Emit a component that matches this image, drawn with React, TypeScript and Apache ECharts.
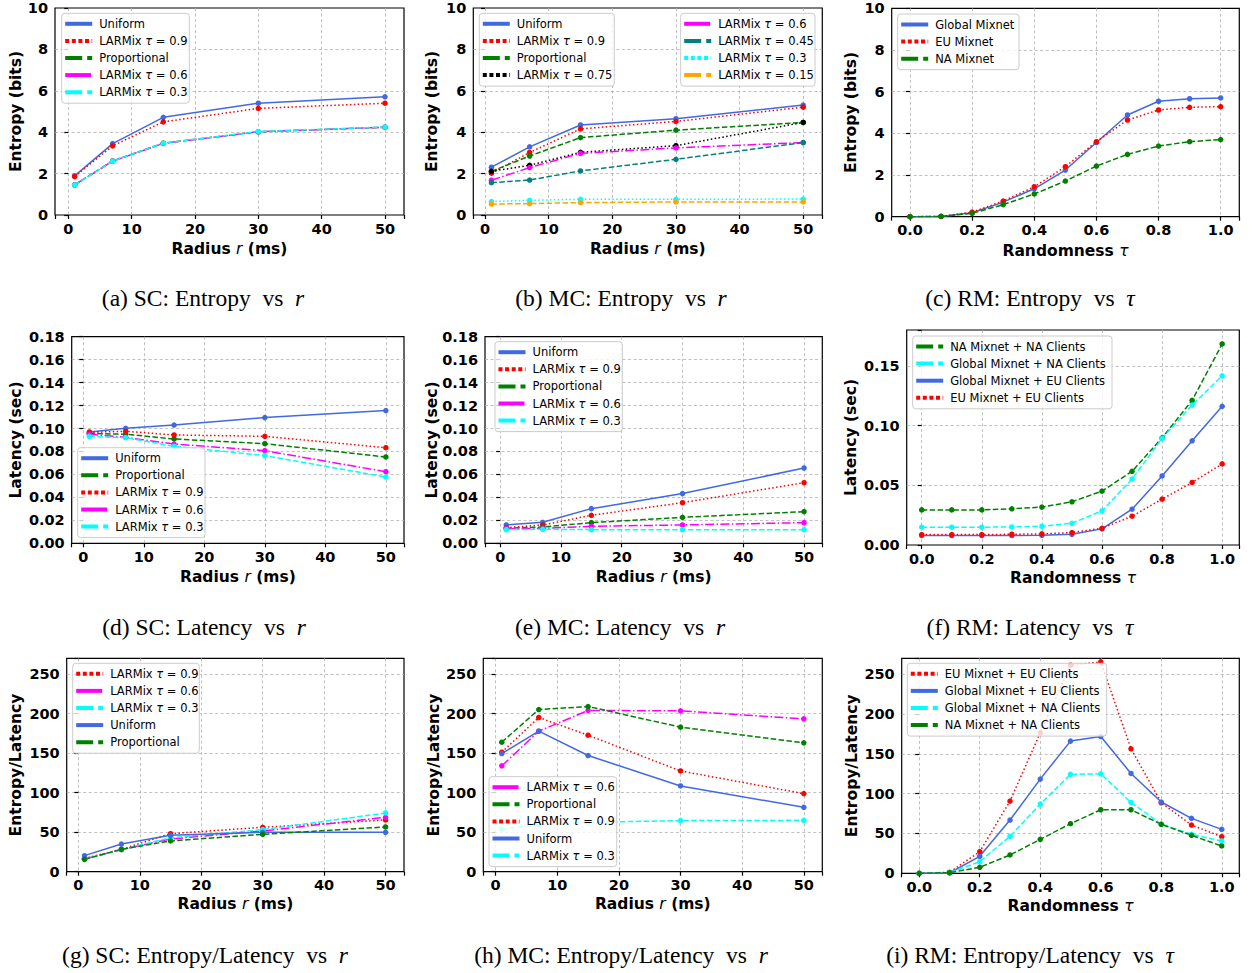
import React, { useEffect, useRef } from 'react';
import * as echarts from 'echarts';

// ---------------- data ----------------
const RADIUS = [1, 7, 15, 30, 50];
const TAU = [0, 0.1, 0.2, 0.3, 0.4, 0.5, 0.6, 0.7, 0.8, 0.9, 1.0];

// (a) SC: Entropy vs r
const scEntUniform = [1.89, 3.45, 4.72, 5.40, 5.71];
const scEntLar09 = [1.86, 3.34, 4.50, 5.15, 5.40];
const scEntProp = [1.46, 2.61, 3.47, 4.02, 4.24];
const scEntLar06 = [1.45, 2.60, 3.46, 4.02, 4.24];
const scEntLar03 = [1.45, 2.60, 3.47, 4.03, 4.25];

// (b) MC: Entropy vs r
const mcEntUniform = [2.31, 3.29, 4.35, 4.65, 5.31];
const mcEntLar09 = [2.02, 3.02, 4.16, 4.52, 5.21];
const mcEntProp = [2.11, 2.85, 3.74, 4.10, 4.47];
const mcEntLar075 = [2.11, 2.40, 3.03, 3.35, 4.47];
const mcEntLar06 = [1.68, 2.29, 2.98, 3.24, 3.50];
const mcEntLar045 = [1.56, 1.69, 2.13, 2.69, 3.50];
const mcEntLar03 = [0.65, 0.71, 0.76, 0.76, 0.77];
const mcEntLar015 = [0.53, 0.55, 0.60, 0.63, 0.63];

// (c) RM: Entropy vs tau
const rmEntGlobal = [0, 0.01, 0.19, 0.70, 1.34, 2.24, 3.56, 4.88, 5.54, 5.66, 5.70];
const rmEntEU = [0, 0.02, 0.22, 0.75, 1.44, 2.40, 3.60, 4.64, 5.12, 5.25, 5.28];
const rmEntNA = [0, 0.01, 0.16, 0.58, 1.09, 1.71, 2.43, 2.99, 3.39, 3.60, 3.70];

// (d) SC: Latency vs r
const scLatUniform = [0.0970, 0.1002, 0.1030, 0.1095, 0.1156];
const scLatProp = [0.0958, 0.0950, 0.0909, 0.0868, 0.0752];
const scLatLar09 = [0.0967, 0.0976, 0.0944, 0.0932, 0.0833];
const scLatLar06 = [0.0950, 0.0923, 0.0865, 0.0807, 0.0624];
const scLatLar03 = [0.0932, 0.0920, 0.0845, 0.0764, 0.0578];

// (e) MC: Latency vs r
const mcLatUniform = [0.0160, 0.0183, 0.0302, 0.0433, 0.0656];
const mcLatLar09 = [0.0136, 0.0160, 0.0244, 0.0354, 0.0528];
const mcLatProp = [0.0130, 0.0142, 0.0180, 0.0226, 0.0276];
const mcLatLar06 = [0.0130, 0.0130, 0.0148, 0.0160, 0.0180];
const mcLatLar03 = [0.0119, 0.0122, 0.0119, 0.0119, 0.0119];

// (f) RM: Latency vs tau
const rmLatNANA = [0.0294, 0.0294, 0.0294, 0.0303, 0.0317, 0.0362, 0.0451, 0.0617, 0.0897, 0.1211, 0.1683];
const rmLatGlobalNA = [0.0149, 0.0149, 0.0149, 0.0151, 0.0157, 0.0182, 0.0286, 0.0552, 0.0892, 0.1172, 0.1416];
const rmLatGlobalEU = [0.0079, 0.0079, 0.0079, 0.0079, 0.0081, 0.0090, 0.0135, 0.0300, 0.0578, 0.0872, 0.1161];
const rmLatEUEU = [0.0087, 0.0087, 0.0087, 0.0090, 0.0093, 0.0104, 0.0140, 0.0241, 0.0384, 0.0524, 0.0679];

// (g) SC: Entropy/Latency vs r
const scRatioLar09 = [16.9, 28.3, 48.1, 56.2, 65.5];
const scRatioLar06 = [16.0, 27.9, 41.4, 51.5, 68.8];
const scRatioLar03 = [16.0, 27.9, 43.0, 53.2, 74.3];
const scRatioUniform = [20.3, 35.0, 46.0, 49.8, 49.8];
const scRatioProp = [15.6, 28.3, 38.9, 47.3, 56.6];

// (h) MC: Entropy/Latency vs r
const mcRatioLar06 = [133.9, 177.8, 204.0, 203.5, 193.4];
const mcRatioProp = [163.9, 205.2, 209.0, 182.9, 163.0];
const mcRatioLar09 = [151.2, 195.1, 172.7, 127.5, 98.8];
const mcRatioUniform = [149.5, 177.8, 147.0, 108.5, 81.5];
const mcRatioLar03 = [54.0, 59.5, 62.5, 64.6, 65.0];

// (i) RM: Entropy/Latency vs tau
const rmRatioEUEU = [0, 1.3, 27.2, 90.7, 176.4, 261.3, 265.5, 156.4, 88.6, 60.6, 46.0];
const rmRatioGlobalEU = [0, 0.4, 21.3, 66.9, 118.3, 166.0, 171.8, 125.4, 89.5, 69.0, 55.2];
const rmRatioGlobalNA = [0, 0.8, 14.6, 46.4, 87.0, 124.2, 125.0, 89.0, 61.9, 48.9, 40.6];
const rmRatioNANA = [0, 0.8, 7.5, 23.0, 42.6, 62.3, 79.8, 79.8, 61.5, 47.7, 34.3];

// captions
const CAPTIONS = [
  ['(a) SC: Entropy', 'r'], ['(b) MC: Entropy', 'r'], ['(c) RM: Entropy', 'τ'],
  ['(d) SC: Latency', 'r'], ['(e) MC: Latency', 'r'], ['(f) RM: Latency', 'τ'],
  ['(g) SC: Entropy/Latency', 'r'], ['(h) MC: Entropy/Latency', 'r'], ['(i) RM: Entropy/Latency', 'τ'],
];

// ---------------- styles ----------------
const C = {
  blue: '#4169E1', red: '#FF0000', green: '#008000', magenta: '#FF00FF',
  cyan: '#00FFFF', teal: '#008080', black: '#000000', orange: '#FFA500',
};
type Dash = 'solid' | 'dashed' | 'dotted' | 'dashdot';
const DASH_PLOT: Record<Dash, any> = { solid: 'solid', dashed: [5.5, 2.4], dotted: [1.5, 2.4], dashdot: [9, 2.4, 1.5, 2.4] };
const DASH_LEG: Record<Dash, any> = { solid: null, dashed: [17, 5], dotted: [4, 2.6], dashdot: [26, 5] };
const FONT = 'DejaVu Sans';

type Spec = { name: string; y: number[]; color: string; dash: Dash };
const sp = (name: string, y: number[], color: string, dash: Dash): Spec => ({ name, y, color, dash });

const PANEL_SERIES: Spec[][] = [
  [sp('Uniform', scEntUniform, C.blue, 'solid'), sp('LARMix τ = 0.9', scEntLar09, C.red, 'dotted'),
   sp('Proportional', scEntProp, C.green, 'dashed'), sp('LARMix τ = 0.6', scEntLar06, C.magenta, 'dashdot'),
   sp('LARMix τ = 0.3', scEntLar03, C.cyan, 'dashed')],
  [sp('Uniform', mcEntUniform, C.blue, 'solid'), sp('LARMix τ = 0.9', mcEntLar09, C.red, 'dotted'),
   sp('Proportional', mcEntProp, C.green, 'dashed'), sp('LARMix τ = 0.75', mcEntLar075, C.black, 'dotted'),
   sp('LARMix τ = 0.6', mcEntLar06, C.magenta, 'dashdot'), sp('LARMix τ = 0.45', mcEntLar045, C.teal, 'dashed'),
   sp('LARMix τ = 0.3', mcEntLar03, C.cyan, 'dotted'), sp('LARMix τ = 0.15', mcEntLar015, C.orange, 'dashed')],
  [sp('Global Mixnet', rmEntGlobal, C.blue, 'solid'), sp('EU Mixnet', rmEntEU, C.red, 'dotted'),
   sp('NA Mixnet', rmEntNA, C.green, 'dashed')],
  [sp('Uniform', scLatUniform, C.blue, 'solid'), sp('Proportional', scLatProp, C.green, 'dashed'),
   sp('LARMix τ = 0.9', scLatLar09, C.red, 'dotted'), sp('LARMix τ = 0.6', scLatLar06, C.magenta, 'dashdot'),
   sp('LARMix τ = 0.3', scLatLar03, C.cyan, 'dashed')],
  [sp('Uniform', mcLatUniform, C.blue, 'solid'), sp('LARMix τ = 0.9', mcLatLar09, C.red, 'dotted'),
   sp('Proportional', mcLatProp, C.green, 'dashed'), sp('LARMix τ = 0.6', mcLatLar06, C.magenta, 'dashdot'),
   sp('LARMix τ = 0.3', mcLatLar03, C.cyan, 'dashed')],
  [sp('NA Mixnet + NA Clients', rmLatNANA, C.green, 'dashed'), sp('Global Mixnet + NA Clients', rmLatGlobalNA, C.cyan, 'dashed'),
   sp('Global Mixnet + EU Clients', rmLatGlobalEU, C.blue, 'solid'), sp('EU Mixnet + EU Clients', rmLatEUEU, C.red, 'dotted')],
  [sp('LARMix τ = 0.9', scRatioLar09, C.red, 'dotted'), sp('LARMix τ = 0.6', scRatioLar06, C.magenta, 'dashdot'),
   sp('LARMix τ = 0.3', scRatioLar03, C.cyan, 'dashed'), sp('Uniform', scRatioUniform, C.blue, 'solid'),
   sp('Proportional', scRatioProp, C.green, 'dashed')],
  [sp('LARMix τ = 0.6', mcRatioLar06, C.magenta, 'dashdot'), sp('Proportional', mcRatioProp, C.green, 'dashed'),
   sp('LARMix τ = 0.9', mcRatioLar09, C.red, 'dotted'), sp('Uniform', mcRatioUniform, C.blue, 'solid'),
   sp('LARMix τ = 0.3', mcRatioLar03, C.cyan, 'dashed')],
  [sp('EU Mixnet + EU Clients', rmRatioEUEU, C.red, 'dotted'), sp('Global Mixnet + EU Clients', rmRatioGlobalEU, C.blue, 'solid'),
   sp('Global Mixnet + NA Clients', rmRatioGlobalNA, C.cyan, 'dashed'), sp('NA Mixnet + NA Clients', rmRatioNANA, C.green, 'dashed')],
];

// ---------------- layout ----------------
type Panel = {
  box: number[]; tau: boolean; xMin: number; xMax: number;
  yMax: number; yStep: number; yDec: number; yName: string; yGap: number; xGap: number;
};
const PANELS: Panel[] = [
  { box: [55, 8, 349, 207], tau: false, xMin: -2.1, xMax: 53, yMax: 10, yStep: 2, yDec: 0, yName: 'Entropy (bits)', yGap: 31.5, xGap: 26 },
  { box: [473.3, 8, 349, 207], tau: false, xMin: -1.85, xMax: 53, yMax: 10, yStep: 2, yDec: 0, yName: 'Entropy (bits)', yGap: 33, xGap: 26 },
  { box: [891.7, 8.3, 347.6, 208.4], tau: true, xMin: -0.059, xMax: 1.06, yMax: 10, yStep: 2, yDec: 0, yName: 'Entropy (bits)', yGap: 33, xGap: 26 },
  { box: [71.7, 336.7, 332.3, 206.6], tau: false, xMin: -1.92, xMax: 53, yMax: 0.18, yStep: 0.02, yDec: 2, yName: 'Latency (sec)', yGap: 48, xGap: 26 },
  { box: [485, 336.7, 337.3, 206.6], tau: false, xMin: -2.5, xMax: 53, yMax: 0.18, yStep: 0.02, yDec: 2, yName: 'Latency (sec)', yGap: 44.7, xGap: 26 },
  { box: [906.7, 330, 332.6, 215], tau: true, xMin: -0.05, xMax: 1.057, yMax: 0.18, yStep: 0.05, yDec: 2, yName: 'Latency (sec)', yGap: 48, xGap: 24.5 },
  { box: [66.7, 658.3, 337.3, 213.4], tau: false, xMin: -1.9, xMax: 53, yMax: 270, yStep: 50, yDec: 0, yName: 'Entropy/Latency', yGap: 42.7, xGap: 24.5 },
  { box: [483.3, 658.3, 339, 213.4], tau: false, xMin: -2.0, xMax: 53, yMax: 270, yStep: 50, yDec: 0, yName: 'Entropy/Latency', yGap: 41.3, xGap: 24.5 },
  { box: [901.7, 658.3, 337.6, 215], tau: true, xMin: -0.058, xMax: 1.058, yMax: 270, yStep: 50, yDec: 0, yName: 'Entropy/Latency', yGap: 41.4, xGap: 24.5 },
];

// legend boxes: panel, series range, x, y, width
const LEGENDS = [
  { panel: 0, from: 0, to: 5, x: 61.7, y: 13.3, w: 127.6 },
  { panel: 1, from: 0, to: 4, x: 479.3, y: 13.3, w: 135 },
  { panel: 1, from: 4, to: 8, x: 680.7, y: 13.3, w: 134.3 },
  { panel: 2, from: 0, to: 3, x: 897.7, y: 14, w: 121.3 },
  { panel: 3, from: 0, to: 5, x: 77.7, y: 447.7, w: 127.3 },
  { panel: 4, from: 0, to: 5, x: 495, y: 341.7, w: 127.3 },
  { panel: 5, from: 0, to: 4, x: 912.7, y: 336, w: 199.3 },
  { panel: 6, from: 0, to: 5, x: 72.7, y: 663.3, w: 126.6 },
  { panel: 7, from: 0, to: 5, x: 489, y: 776.7, w: 127.7 },
  { panel: 8, from: 0, to: 4, x: 907.3, y: 663.3, w: 199.4 },
];
const CAPTION_POS = [
  [203, 298], [621, 298], [1030, 298],
  [204, 627], [620, 627], [1030, 627],
  [205, 955], [621, 955], [1030, 955],
];

const fmt = (step: number, dec: number) => (v: number) => {
  const k = v / step;
  return Math.abs(k - Math.round(k)) < 1e-6 ? (Math.abs(v) < 1e-12 ? 0 : v).toFixed(dec) : '';
};

const richName = (name: string) => '{n|' + name.replace('τ', '}{t|τ}{n|') + '}';

function buildOption() {
  const labelStyle = { color: '#000', fontFamily: FONT, fontWeight: 'bold', fontSize: 14.5 };
  const nameStyle = {
    color: '#000', fontFamily: FONT, fontWeight: 'bold', fontSize: 15.5,
    rich: {
      b: { color: '#000', fontFamily: FONT, fontWeight: 'bold', fontSize: 15.5 },
      i: { color: '#000', fontFamily: FONT, fontStyle: 'italic', fontWeight: 'normal', fontSize: 15.5 },
    },
  };
  const splitLine = {
    show: true, showMinLine: false, showMaxLine: false,
    lineStyle: { color: '#b0b0b0', width: 0.8, type: [3, 2.5] },
  };
  const axisTick = { show: true, inside: false, length: 4, lineStyle: { color: '#000', width: 1.2 } };

  const grid = PANELS.map((p) => ({
    left: p.box[0], top: p.box[1], width: p.box[2], height: p.box[3],
    show: true, borderColor: '#000', borderWidth: 1.2, backgroundColor: 'rgba(0,0,0,0)', containLabel: false,
  }));
  const xAxis = PANELS.map((p, i) => ({
    type: 'value', gridIndex: i, min: p.xMin, max: p.xMax, splitNumber: 5,
    name: p.tau ? '{b|Randomness }{i|τ}' : '{b|Radius }{i|r}{b| (ms)}',
    nameLocation: 'middle', nameGap: p.xGap, nameTextStyle: nameStyle, nameMoveOverlap: false,
    axisLine: { show: false }, axisTick,
    axisLabel: { ...labelStyle, margin: 6, formatter: p.tau ? fmt(0.2, 1) : fmt(10, 0) },
    splitLine,
  }));
  const yAxis = PANELS.map((p, i) => ({
    type: 'value', gridIndex: i, min: 0, max: p.yMax, interval: p.yStep,
    name: p.yName, nameLocation: 'middle', nameGap: p.yGap, nameTextStyle: nameStyle, nameMoveOverlap: false,
    axisLine: { show: false }, axisTick,
    axisLabel: { ...labelStyle, margin: 7, formatter: fmt(p.yStep, p.yDec) },
    splitLine,
  }));

  const series: any[] = [];
  PANEL_SERIES.forEach((list, i) => {
    const xs = PANELS[i].tau ? TAU : RADIUS;
    list.forEach((s) => {
      series.push({
        type: 'line', name: s.name, xAxisIndex: i, yAxisIndex: i,
        data: s.y.map((v, k) => [xs[k], v]),
        symbol: 'circle', symbolSize: 5.5, showSymbol: true,
        lineStyle: { color: s.color, width: 1.5, type: DASH_PLOT[s.dash], cap: 'butt' },
        itemStyle: { color: s.color },
        emphasis: { disabled: true },
      });
    });
  });

  const elements: any[] = [];
  LEGENDS.forEach((L) => {
    const items = PANEL_SERIES[L.panel].slice(L.from, L.to);
    const step = 17.1;
    const first = L.y + 10.5;
    elements.push({
      type: 'rect', z: 100,
      shape: { x: L.x, y: L.y, width: L.w, height: 10.5 + (items.length - 1) * step + 11, r: 3 },
      style: { fill: 'rgba(255,255,255,0.8)', stroke: '#cccccc', lineWidth: 1 },
    });
    items.forEach((s, k) => {
      const y = first + k * step;
      const dash = DASH_LEG[s.dash];
      elements.push({
        type: 'line', z: 101,
        shape: { x1: L.x + 3.5, y1: y, x2: L.x + 30.5, y2: y },
        style: { stroke: s.color, lineWidth: 4, lineDash: dash || undefined, lineCap: 'butt' },
      });
      elements.push({
        type: 'text', z: 101, x: L.x + 37.5, y,
        style: {
          text: richName(s.name), fill: '#000', fontFamily: FONT, fontSize: 11.5,
          align: 'left', verticalAlign: 'middle', textAlign: 'left', textVerticalAlign: 'middle',
          rich: {
            n: { fill: '#000', fontFamily: FONT, fontSize: 11.5 },
            t: { fill: '#000', fontFamily: FONT, fontSize: 11.5, fontStyle: 'italic' },
          },
        },
      });
    });
  });
  CAPTIONS.forEach((c, i) => {
    const [x, y] = CAPTION_POS[i];
    elements.push({
      type: 'text', z: 101, x, y,
      style: {
        text: '{n|' + c[0] + '\u00a0\u00a0vs\u00a0\u00a0}{i|' + c[1] + '}',
        fill: '#000', fontFamily: 'Liberation Serif', fontSize: 23.5,
        align: 'center', verticalAlign: 'middle', textAlign: 'center', textVerticalAlign: 'middle',
        rich: {
          n: { fill: '#000', fontFamily: 'Liberation Serif', fontSize: 23.5 },
          i: { fill: '#000', fontFamily: 'Liberation Serif', fontSize: 23.5, fontStyle: 'italic' },
        },
      },
    });
  });

  return {
    animation: false,
    backgroundColor: '#ffffff',
    grid, xAxis, yAxis, series,
    graphic: { elements },
  };
}

export default function App() {
  const ref = useRef<HTMLDivElement>(null);
  useEffect(() => {
    if (!ref.current) return;
    const chart = echarts.init(ref.current, null, { renderer: 'svg' });
    chart.setOption(buildOption() as any);
    return () => chart.dispose();
  }, []);
  return (
    <div
      ref={ref}
      style={{ position: 'absolute', left: 0, top: 0, width: 1252, height: 973, background: '#fff' }}
    />
  );
}
